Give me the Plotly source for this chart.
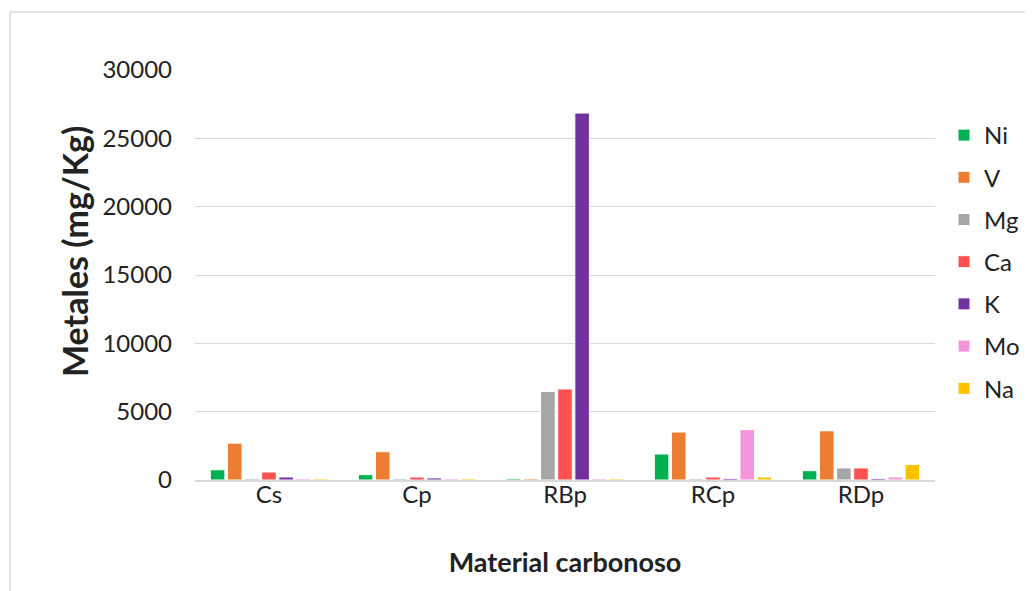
import plotly.graph_objects as go

categories = ["Cs", "Cp", "RBp", "RCp", "RDp"]
series_names = ["Ni", "V", "Mg", "Ca", "K", "Mo", "Na"]
Ni = [750, 390, 100, 1900, 680]
V = [2700, 2070, 100, 3510, 3600]
Mg = [100, 100, 6480, 100, 880]
Ca = [585, 220, 6660, 220, 880]
K = [220, 150, 26850, 120, 120]
Mo = [100, 100, 100, 3680, 220]
Na = [100, 100, 100, 220, 1140]
colors = ["#00b050", "#ed7d31", "#a5a5a5", "#ff5050", "#7030a0", "#f395dc", "#ffc000"]
y_ticks = [0, 5000, 10000, 15000, 20000, 25000, 30000]

values = [Ni, V, Mg, Ca, K, Mo, Na]
font_family = "Lato, 'Open Sans', sans-serif"

fig = go.Figure()
for i, (name, vals) in enumerate(zip(series_names, values)):
    fig.add_trace(go.Bar(
        x=categories, y=vals, name=name, legendgroup=name,
        marker=dict(color=colors[i], line=dict(color="white", width=1)),
    ))

# page body adds an 8px offset
OFF = 8
W, H = 1033, 591
L, T = 195 - OFF, 70 - OFF
R, B = W - (935 - OFF), H - (480 - OFF)
pw, ph = W - L - R, H - T - B

def px_x(x):
    return (x - OFF - L) / pw

def px_y(y):
    return (H - B - (y - OFF)) / ph

fig.update_layout(
    width=W, height=H,
    margin=dict(l=L, r=R, t=T, b=B, autoexpand=False),
    paper_bgcolor="white", plot_bgcolor="white",
    barmode="group", bargap=0.19, bargroupgap=0.15,
    font=dict(family=font_family, size=24, color="#222222"),
    showlegend=True,
    legend=dict(x=px_x(944), y=px_y(262), xanchor="left", yanchor="middle",
                font=dict(size=24), tracegroupgap=8, traceorder="grouped",
                bgcolor="rgba(0,0,0,0)"),
    xaxis=dict(
        title=dict(text="<b>Material carbonoso</b>", font=dict(size=27), standoff=47),
        showline=True, linecolor="#d9d9d9", linewidth=1.5,
        tickfont=dict(size=24), ticks="", automargin=False,
        ticklabelstandoff=-8,
    ),
    yaxis=dict(
        range=[0, 30000], tickvals=y_ticks, ticktext=[str(v) for v in y_ticks],
        showgrid=True, gridcolor="#d9d9d9", gridwidth=1,
        zeroline=False, tickfont=dict(size=24), ticks="",
        ticklabelstandoff=22, automargin=False,
    ),
    annotations=[dict(
        text="<b>Metales (mg/Kg)</b>", textangle=-90, showarrow=False,
        xref="paper", yref="paper", x=px_x(75), y=px_y(252),
        xanchor="center", yanchor="middle", font=dict(size=34, color="#222222"),
    )],
    shapes=[dict(
        type="rect", xref="paper", yref="paper",
        x0=px_x(10), x1=px_x(W + 30),
        y0=px_y(H + 30), y1=px_y(12),
        line=dict(color="#d9d9d9", width=1.5), fillcolor="rgba(0,0,0,0)", layer="below",
    )],
)

fig.write_html("out.html")
